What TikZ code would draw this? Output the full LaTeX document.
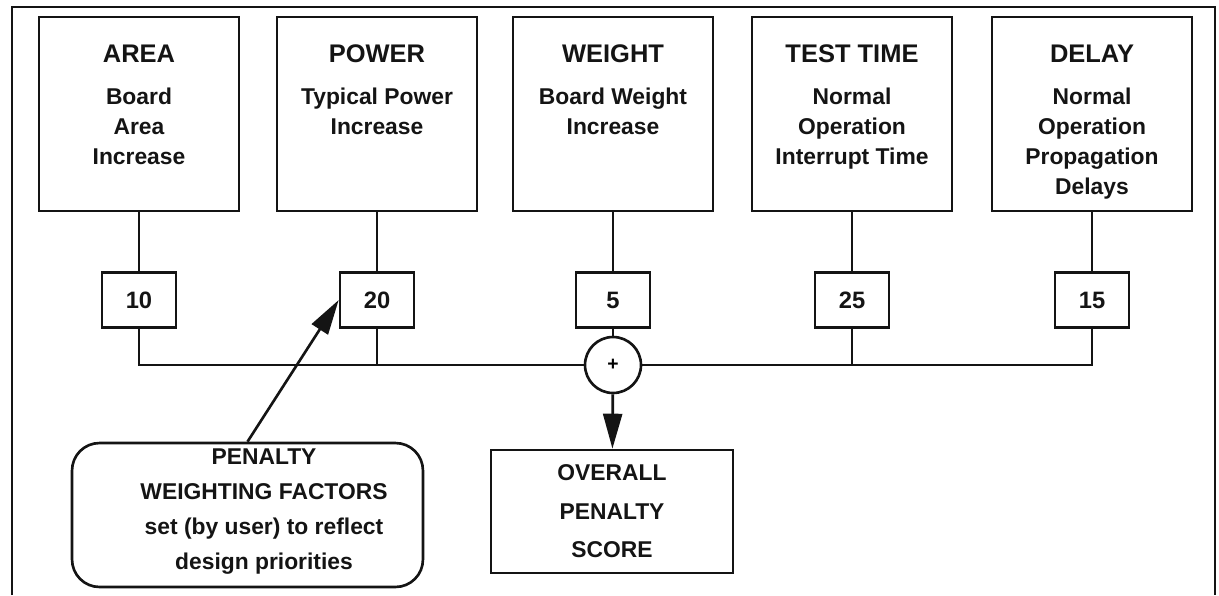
\documentclass[tikz,border=0pt]{standalone}
\usepackage{fontspec}
\setmainfont{Liberation Sans}
\usepackage{xcolor}
\definecolor{inkblack}{RGB}{20,20,20}
\usetikzlibrary{arrows.meta, positioning, calc}

\tikzset{
  critbox/.style={draw=inkblack, line width=1.5pt, minimum width=4cm, minimum height=3.88cm},
  crittitle/.style={inner sep=0pt, text=inkblack, font=\fontsize{14.5}{17}\selectfont\bfseries},
  critbody/.style={inner sep=0pt, anchor=north, align=center, text=inkblack, font=\fontsize{13}{17.07}\selectfont\bfseries},
  factorbox/.style={draw=inkblack, line width=1.5pt, minimum width=1.48cm, minimum height=1.1cm, text=inkblack, font=\fontsize{13.5}{16}\selectfont\bfseries},
  sumnode/.style={circle, draw=inkblack, line width=1.5pt, minimum size=1.12cm, inner sep=0pt, font=\fontsize{11}{12}\selectfont\bfseries},
  wire/.style={draw=inkblack, line width=1.5pt},
  bigarrow/.style={wire, -{Triangle[length=0.7cm 0, width=0.38cm 0]}},
}

\begin{document}
\begin{tikzpicture}[x=0.02cm, y=-0.02cm]
  \useasboundingbox (0,0) rectangle (1219,595);

  % --- Outer frame ---
  \draw[inkblack, line width=1.3pt] (12,595) -- (12,7) -- (1215,7) -- (1215,595);

  % --- Top: criteria boxes ---
  \node[critbox] (area) at (139,114) {};
  \node[crittitle] (area-title) at (139,54) {AREA};
  \node[critbody] (area-body) at (139,88) {Board\\Area\\Increase};

  \node[critbox] (power) at (377,114) {};
  \node[crittitle] (power-title) at (377,54) {POWER};
  \node[critbody] (power-body) at (377,88) {Typical Power\\Increase};

  \node[critbox] (weight) at (613,114) {};
  \node[crittitle] (weight-title) at (613,54) {WEIGHT};
  \node[critbody] (weight-body) at (613,88) {Board Weight\\Increase};

  \node[critbox] (testtime) at (852,114) {};
  \node[crittitle] (testtime-title) at (852,54) {TEST TIME};
  \node[critbody] (testtime-body) at (852,88) {Normal\\Operation\\Interrupt Time};

  \node[critbox] (delay) at (1092,114) {};
  \node[crittitle] (delay-title) at (1092,54) {DELAY};
  \node[critbody] (delay-body) at (1092,88) {Normal\\Operation\\Propagation\\Delays};

  % --- Middle: weighting factors ---
  \node[factorbox] (w-area) at (139,300) {10};
  \node[factorbox] (w-power) at (377,300) {20};
  \node[factorbox] (w-weight) at (613,300) {5};
  \node[factorbox] (w-testtime) at (852,300) {25};
  \node[factorbox] (w-delay) at (1092,300) {15};

  \draw[wire] (area) -- (w-area);
  \draw[wire] (power) -- (w-power);
  \draw[wire] (weight) -- (w-weight);
  \draw[wire] (testtime) -- (w-testtime);
  \draw[wire] (delay) -- (w-delay);

  % summing junction and bus
  \node[sumnode] (sum) at (613,365) {+};
  \draw[wire] (w-weight) -- (sum);
  \draw[wire] (w-area.south) |- (sum.west);
  \draw[wire] (w-delay.south) |- (sum.east);
  \draw[wire] (w-power.south) -- (w-power.south |- sum.west);
  \draw[wire] (w-testtime.south) -- (w-testtime.south |- sum.east);

  % --- Bottom: score and note ---
  \node[draw=inkblack, line width=1.5pt, minimum width=4.84cm, minimum height=2.46cm, align=center, text=inkblack,
        font=\fontsize{13}{21.9}\selectfont\bfseries] (score) at (612,511.5) {OVERALL\\PENALTY\\SCORE};
  \draw[bigarrow] (sum) -- (score);

  \node[draw=inkblack, line width=1.5pt, rounded corners=0.55cm, minimum width=7.02cm, minimum height=2.88cm] (factors) at (247.5,515) {};
  \node[inner sep=0pt, anchor=north, align=center, text=inkblack, font=\fontsize{13}{20}\selectfont\bfseries]
        (factors-text) at (264,448) {PENALTY\\WEIGHTING FACTORS\\set (by user) to reflect\\design priorities};
  \draw[bigarrow] (factors.north) -- (w-power.west);
\end{tikzpicture}
\end{document}
